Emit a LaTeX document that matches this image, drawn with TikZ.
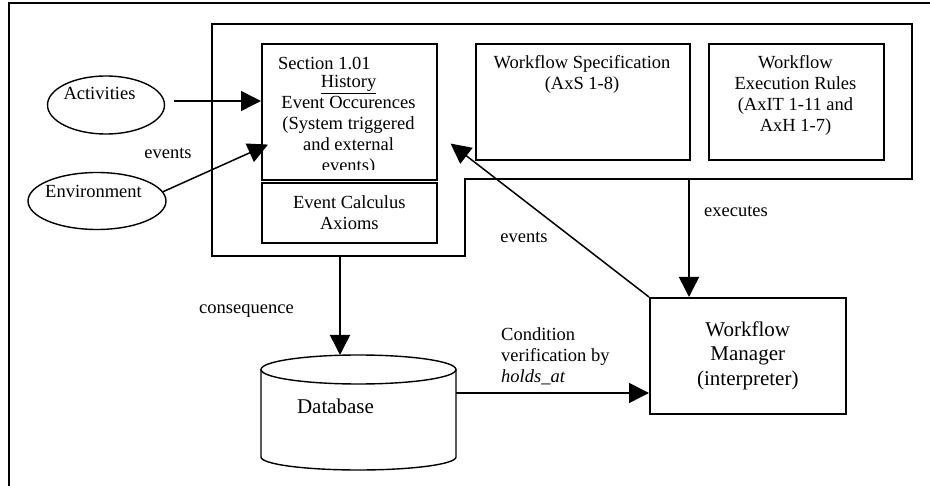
\documentclass[tikz,border=0pt]{standalone}
\usepackage{fontspec}
\setmainfont{Liberation Serif}
\usepackage{tikz}
\usetikzlibrary{arrows.meta,positioning,shapes.geometric,calc}

\begin{document}
\begin{tikzpicture}[x=1pt,y=-1pt,
    every node/.style={font=\fontsize{18.5}{21}\selectfont, inner sep=0pt},
    box/.style={draw, line width=1.6pt, anchor=north west},
    blob/.style={draw, ellipse, line width=1.4pt},
    arr/.style={line width=1.5pt, -{Triangle[length=20pt,width=20pt]}},
    big/.style={font=\fontsize{21}{24.5}\selectfont}]
    \clip (0,0) rectangle (930,486);

    % Frame
    \draw[line width=1.4pt] (9,3) rectangle (1000,600);

    % Knowledge base
    \draw[line width=1.6pt] (212,24) -- (912,24) -- (912,179) -- (465,179)
        -- (465,256) -- (212,256) -- cycle;
    \coordinate (kbexec) at (689,179);
    \coordinate (kbcons) at (340,256);

    % History
    \node[box, minimum width=175pt, minimum height=136pt] (hist) at (261,43) {};
    \node[anchor=base west] (sect) at (278,70) {Section 1.01};
    \begin{scope}
        \clip (hist.north west) rectangle ($(hist.south east)+(0,-11)$);
        \node[anchor=north, align=center] (histtxt) at (348.5,75)
            {\underline{History}\\Event Occurences\\(System triggered\\and external\\events)};
    \end{scope}

    % Axioms, specification, rules
    \node[box, align=center, minimum width=175pt, minimum height=60pt] (axioms) at (261,182)
        {Event Calculus\\Axioms};
    \node[box, minimum width=214pt, minimum height=116pt] (spec) at (475,43) {};
    \node[anchor=north, align=center] (spectxt) at (582,55.5)
        {Workflow Specification\\(AxS 1-8)};
    \node[box, minimum width=175pt, minimum height=116pt] (rules) at (708,43) {};
    \node[anchor=north, align=center] (rulestxt) at (795.5,55.5)
        {Workflow\\Execution Rules\\(AxIT 1-11 and\\AxH 1-7)};

    % Sources
    \node[blob, minimum width=117pt, minimum height=58pt] (act) at (106,105) {};
    \node[anchor=base] (acttxt) at (99.5,100) {Activities};
    \node[blob, minimum width=138pt, minimum height=57pt] (env) at (97,201) {};
    \node[anchor=base] (envtxt) at (93.5,198) {Environment};

    % Manager
    \node[box, big, align=center, minimum width=196pt, minimum height=116pt] (wm) at (649,297)
        {Workflow\\Manager\\(interpreter)};

    % Database
    \draw[line width=1.4pt] (261,369.5) -- (261,457)
        arc[start angle=180, end angle=0, x radius=97.5, y radius=13] -- (456,369.5);
    \draw[line width=1.4pt] (358.5,369.5) ellipse [x radius=97.5, y radius=14.5];
    \node[big, anchor=base] (db) at (335.5,414) {Database};
    \coordinate (dbtop) at (340,355);
    \coordinate (dbout) at (456,393);

    % Connectors
    \draw[arr] (act.east) ++(9,-4) coordinate (actout) -- (actout -| hist.west);
    \draw[arr] (env.8) -- ($(hist.south west)+(7,-36)$);
    \draw[arr] (wm.north west) -- ($(hist.south east)+(13,-37)$);
    \draw[arr] (kbexec) -- (kbexec |- wm.north);
    \draw[arr] (kbcons) -- (dbtop);
    \draw[arr] (dbout) -- (dbout -| wm.west);

    % Labels
    \node[anchor=base] (evin) at (168,159) {events};
    \node[anchor=base] (evback) at (524,243) {events};
    \node[anchor=base] (exec) at (736,217) {executes};
    \node[anchor=base] (cons) at (246.5,314) {consequence};
    \node[anchor=north west, align=left] (cond) at (501,327.5)
        {Condition\\verification by\\\textit{holds\_at}};
\end{tikzpicture}
\end{document}
